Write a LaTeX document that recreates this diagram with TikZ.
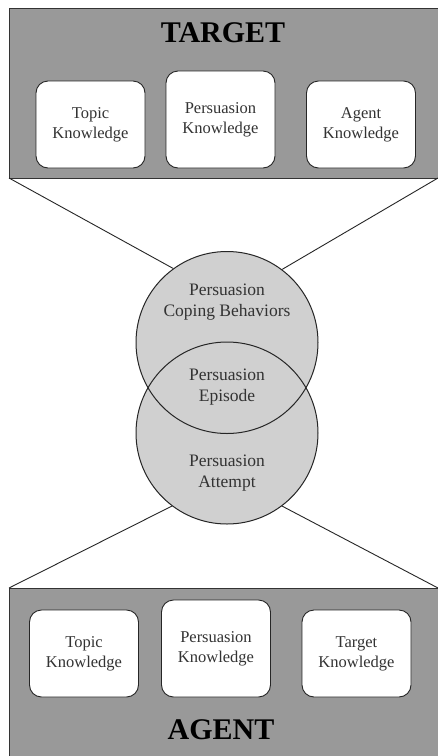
\documentclass[tikz,border=0pt]{standalone}
\usepackage{fontspec}
\setmainfont{Liberation Serif}
\definecolor{panelgray}{HTML}{999999}
\definecolor{circgray}{HTML}{D0D0D0}
\definecolor{txtgray}{HTML}{333333}
\begin{document}
\begin{tikzpicture}[x=1pt,y=-1pt,
  panel/.style={draw=black!80, line width=1pt, fill=panelgray},
  kbox/.style={draw=black!85, line width=0.9pt, fill=white, rounded corners=12pt,
    minimum width=109pt, align=center, font=\fontsize{16.5}{20}\selectfont, text=txtgray, inner sep=0pt},
  ringfill/.style={circle, draw=none, fill=circgray, minimum size=182pt, inner sep=0pt},
  ringline/.style={circle, draw=black!85, line width=1pt, minimum size=182pt, inner sep=0pt},
  ctext/.style={align=center, font=\fontsize{17.5}{21}\selectfont, text=txtgray},
  title/.style={font=\fontsize{30}{34}\selectfont\bfseries},
  link/.style={draw=black!85, line width=0.9pt}]
\useasboundingbox (0,0) rectangle (438,756);
\fill[white] (0,0) rectangle (438,756);
% panels
\draw[panel] (9,8) rectangle (446,178);
\draw[panel] (9,588) rectangle (446,764);
\coordinate (tl) at (9,178);
\coordinate (tr) at (438,178);
\coordinate (bl) at (9,588);
\coordinate (br) at (438,588);
% titles
\node[title] (ttitle) at (223,33) {TARGET};
\node[title] (atitle) at (221,730) {AGENT};
% target boxes
\node[kbox, minimum height=87pt] (t1) at (90.5,124.5) {Topic\\Knowledge};
\node[kbox, minimum height=97pt] (t2) at (220.5,119.5) {Persuasion\\Knowledge};
\node[kbox, minimum height=87pt] (t3) at (361,124.5) {Agent\\Knowledge};
% agent boxes
\node[kbox, minimum height=87pt] (a1) at (84,653.5) {Topic\\Knowledge};
\node[kbox, minimum height=97pt] (a2) at (216,648.5) {Persuasion\\Knowledge};
\node[kbox, minimum height=87pt] (a3) at (356.5,653.5) {Target\\Knowledge};
% circles
\node[ringfill] (upf) at (227,342.5) {};
\node[ringfill] (lowf) at (227,433) {};
\node[ringline] (up) at (227,342.5) {};
\node[ringline] (low) at (227,433) {};
\draw[link] (tl) -- (up.126.6);
\draw[link] (tr) -- (up.53.4);
\draw[link] (bl) -- (low.-127);
\draw[link] (br) -- (low.-53);
\node[ctext] (cope) at (227,302) {Persuasion\\Coping Behaviors};
\node[ctext] (epi) at (227,387) {Persuasion\\Episode};
\node[ctext] (att) at (227,473) {Persuasion\\Attempt};
\end{tikzpicture}
\end{document}
